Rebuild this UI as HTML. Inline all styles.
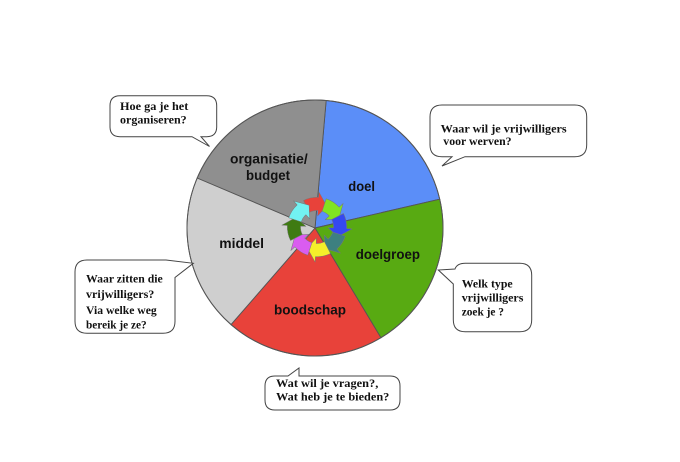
<!DOCTYPE html>
<html>
<head>
<meta charset="utf-8">
<style>
  html,body{margin:0;padding:0;background:#fff;}
  svg{display:block;}
  .lab{font-family:"Liberation Sans",Arial,sans-serif;font-weight:bold;font-size:14px;fill:#111;}
  .bt{font-family:"Liberation Serif","Times New Roman","DejaVu Serif",serif;font-weight:bold;font-size:12px;fill:#111;}
  .bub{fill:#fff;stroke:#444;stroke-width:1;}
</style>
</head>
<body>
<svg width="680" height="462" viewBox="0 0 680 462" xmlns="http://www.w3.org/2000/svg">
  <rect width="680" height="462" fill="#fff"/>

  <!-- Pie slices -->
  <g stroke="#555" stroke-width="0.9" stroke-linejoin="round">
    <path d="M315,228 L326.16,100.49 A128,128 0 0 1 439.72,199.21 Z" fill="#5b8ef8"/>
    <path d="M315,228 L439.72,199.21 A128,128 0 0 1 380.92,337.72 Z" fill="#58aa12"/>
    <path d="M315,228 L380.92,337.72 A128,128 0 0 1 231.02,324.60 Z" fill="#e8423a"/>
    <path d="M315,228 L231.02,324.60 A128,128 0 0 1 197.18,177.99 Z" fill="#cfcfcf"/>
    <path d="M315,228 L197.18,177.99 A128,128 0 0 1 326.16,100.49 Z" fill="#8f8f8f"/>
  </g>
  <circle cx="315" cy="228" r="128" fill="none" stroke="#555" stroke-width="1"/>

  <!-- Cycle arrows -->
  <g stroke="#777" stroke-width="0.45" stroke-linejoin="round">
    <path transform="translate(317 227) rotate(25) scale(1.1)" fill="#e8423a" d="M-21.28,-16.62 A27,27 0 0 1 -10.11,-25.03 L-11.99,-29.67 L0,-21 L-3.75,-9.27 L-5.62,-13.91 A15,15 0 0 0 -11.82,-9.24 Z"/>
    <path transform="translate(317 227) rotate(70) scale(1.1)" fill="#80e421" d="M-21.28,-16.62 A27,27 0 0 1 -10.11,-25.03 L-11.99,-29.67 L0,-21 L-3.75,-9.27 L-5.62,-13.91 A15,15 0 0 0 -11.82,-9.24 Z"/>
    <path transform="translate(317 227) rotate(115) scale(1.1)" fill="#3548f0" d="M-21.28,-16.62 A27,27 0 0 1 -10.11,-25.03 L-11.99,-29.67 L0,-21 L-3.75,-9.27 L-5.62,-13.91 A15,15 0 0 0 -11.82,-9.24 Z"/>
    <path transform="translate(317 227) rotate(160) scale(1.1)" fill="#3d8080" d="M-21.28,-16.62 A27,27 0 0 1 -10.11,-25.03 L-11.99,-29.67 L0,-21 L-3.75,-9.27 L-5.62,-13.91 A15,15 0 0 0 -11.82,-9.24 Z"/>
    <path transform="translate(317 227) rotate(205) scale(1.1)" fill="#f5ef2a" d="M-21.28,-16.62 A27,27 0 0 1 -10.11,-25.03 L-11.99,-29.67 L0,-21 L-3.75,-9.27 L-5.62,-13.91 A15,15 0 0 0 -11.82,-9.24 Z"/>
    <path transform="translate(317 227) rotate(250) scale(1.1)" fill="#da5cf0" d="M-21.28,-16.62 A27,27 0 0 1 -10.11,-25.03 L-11.99,-29.67 L0,-21 L-3.75,-9.27 L-5.62,-13.91 A15,15 0 0 0 -11.82,-9.24 Z"/>
    <path transform="translate(317 227) rotate(295) scale(1.1)" fill="#3f7b12" d="M-21.28,-16.62 A27,27 0 0 1 -10.11,-25.03 L-11.99,-29.67 L0,-21 L-3.75,-9.27 L-5.62,-13.91 A15,15 0 0 0 -11.82,-9.24 Z"/>
    <path transform="translate(317 227) rotate(340) scale(1.1)" fill="#72f2f2" d="M-21.28,-16.62 A27,27 0 0 1 -10.11,-25.03 L-11.99,-29.67 L0,-21 L-3.75,-9.27 L-5.62,-13.91 A15,15 0 0 0 -11.82,-9.24 Z"/>
  </g>

  <!-- Pie labels -->
  <text class="lab" x="230" y="163.5" textLength="77.7" lengthAdjust="spacingAndGlyphs">organisatie/</text>
  <text class="lab" x="246" y="180" textLength="44" lengthAdjust="spacingAndGlyphs">budget</text>
  <text class="lab" x="348.3" y="191" textLength="26.7" lengthAdjust="spacingAndGlyphs">doel</text>
  <text class="lab" x="355.7" y="259" textLength="64.3" lengthAdjust="spacingAndGlyphs">doelgroep</text>
  <text class="lab" x="219.3" y="248" textLength="44.7" lengthAdjust="spacingAndGlyphs">middel</text>
  <text class="lab" x="274" y="314.5" textLength="72" lengthAdjust="spacingAndGlyphs">boodschap</text>

  <!-- Bubble 1: Hoe ga je het -->
  <path class="bub" d="M120,95.7 H206.7 Q216.7,95.7 216.7,105.7 V126.7 Q216.7,136.7 206.7,136.7 H201 L209.5,146.5 L192,136.7 H120 Q110,136.7 110,126.7 V105.7 Q110,95.7 120,95.7 Z"/>
  <text class="bt" x="120" y="110" textLength="68.3" lengthAdjust="spacingAndGlyphs">Hoe ga je het</text>
  <text class="bt" x="120" y="123.5" textLength="66.7" lengthAdjust="spacingAndGlyphs">organiseren?</text>

  <!-- Bubble 2: Waar wil je vrijwilligers -->
  <path class="bub" d="M442,105 H574.7 Q586.7,105 586.7,117 V144.7 Q586.7,156.7 574.7,156.7 H465 L442,166 L452,156.7 H442 Q430,156.7 430,144.7 V117 Q430,105 442,105 Z"/>
  <text class="bt" x="440.7" y="132.3" textLength="126" lengthAdjust="spacingAndGlyphs">Waar wil je vrijwilligers</text>
  <text class="bt" x="443.3" y="145" textLength="68.3" lengthAdjust="spacingAndGlyphs">voor werven?</text>

  <!-- Bubble 3: Welk type -->
  <path class="bub" d="M465.3,263.3 H519.7 Q531.7,263.3 531.7,275.3 V319.7 Q531.7,331.7 519.7,331.7 H465.3 Q453.3,331.7 453.3,319.7 V284 L438.3,270 L455,269 Q457,263.3 465.3,263.3 Z"/>
  <text class="bt" x="461.7" y="287.3" textLength="51" lengthAdjust="spacingAndGlyphs">Welk type</text>
  <text class="bt" x="461.7" y="301.7" textLength="61.7" lengthAdjust="spacingAndGlyphs">vrijwilligers</text>
  <text class="bt" x="461.7" y="315.5" textLength="42.3" lengthAdjust="spacingAndGlyphs">zoek je ?</text>

  <!-- Bubble 4: Waar zitten die -->
  <path class="bub" d="M87,260 H166 L193.3,263.3 L175,277.5 V321.3 Q175,333.3 163,333.3 H87 Q75,333.3 75,321.3 V272 Q75,260 87,260 Z"/>
  <text class="bt" x="86" y="282.3" textLength="76.7" lengthAdjust="spacingAndGlyphs">Waar zitten die</text>
  <text class="bt" x="86" y="298" textLength="68.3" lengthAdjust="spacingAndGlyphs">vrijwilligers?</text>
  <text class="bt" x="86" y="314" textLength="70.7" lengthAdjust="spacingAndGlyphs">Via welke weg</text>
  <text class="bt" x="86" y="328.5" textLength="60.7" lengthAdjust="spacingAndGlyphs">bereik je ze?</text>

  <!-- Bubble 5: Wat wil je vragen -->
  <path class="bub" d="M275,376 H288 L299,368 V376 H390 Q400,376 400,386 V400 Q400,410 390,410 H275 Q265,410 265,400 V386 Q265,376 275,376 Z"/>
  <text class="bt" x="276" y="387" textLength="102.3" lengthAdjust="spacingAndGlyphs">Wat wil je vragen?,</text>
  <text class="bt" x="276" y="400.5" textLength="113.3" lengthAdjust="spacingAndGlyphs">Wat heb je te  bieden?</text>
</svg>
</body>
</html>
